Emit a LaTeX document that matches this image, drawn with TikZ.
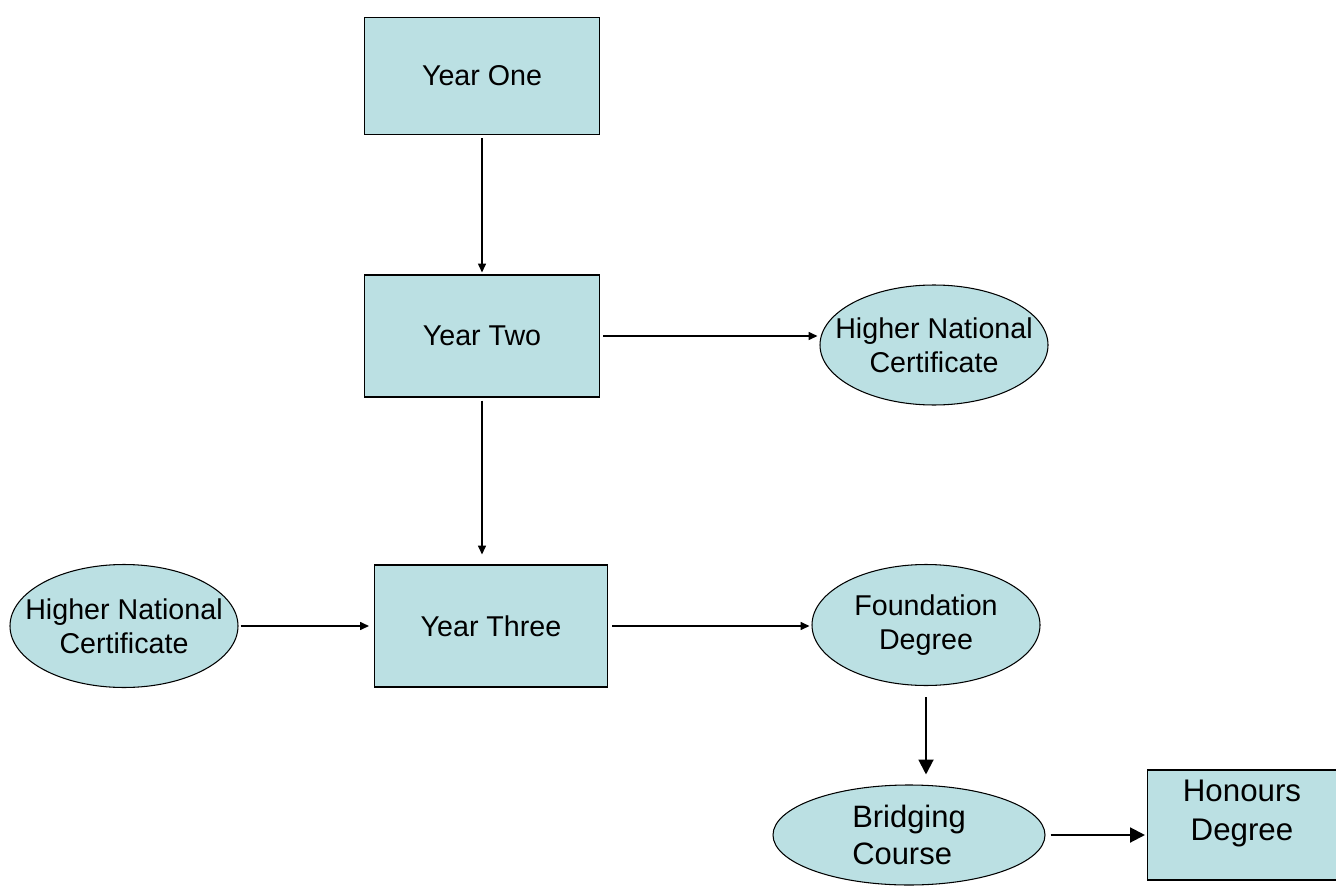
\documentclass[tikz,border=0pt]{standalone}
\usepackage{fontspec}
\setmainfont{Liberation Sans}
\usetikzlibrary{shapes.geometric,arrows.meta}
\definecolor{boxfill}{HTML}{BBE0E3}
\begin{document}
\begin{tikzpicture}[x=0.02cm,y=-0.02cm,
    every node/.style={draw,fill=boxfill,line width=0.6pt,inner sep=0pt,
        font=\fontsize{16.3}{19.5}\selectfont,align=center},
    box/.style={rectangle},
    oval/.style={ellipse,inner xsep=-0.6cm},
    link/.style={line width=0.75pt,-{Triangle[length=5pt,width=4.5pt]}},
    bigLink/.style={line width=1.2pt,-{Triangle[length=8.5pt,width=8.5pt]}}]
    \useasboundingbox (0,0) rectangle (1336,892);
    \begin{scope}
        \node[box,minimum width=235*0.02cm,minimum height=117*0.02cm] (y1) at (482,76) {Year One};
        \node[box,minimum width=235*0.02cm,minimum height=122*0.02cm] (y2) at (482,336) {Year Two};
        \node[box,minimum width=233*0.02cm,minimum height=122*0.02cm] (y3) at (491,626) {Year Three};
        \node[oval,minimum width=228*0.02cm,minimum height=120*0.02cm] (hncR) at (934,345) {Higher National\\Certificate};
        \node[oval,minimum width=228*0.02cm,minimum height=123*0.02cm] (hncL) at (124,626) {Higher National\\Certificate};
        \node[oval,minimum width=228*0.02cm,minimum height=121*0.02cm] (fd) at (926,625) {Foundation\\Degree};
        \node[oval,minimum width=272*0.02cm,minimum height=100*0.02cm,align=left,
            font=\fontsize{17.6}{21}\selectfont] (bc) at (909,835) {Bridging\\Course};
        \node[box,minimum width=189*0.02cm,minimum height=110*0.02cm,
            font=\fontsize{17.8}{22}\selectfont,text depth=0.6cm] (hd) at (1242,825) {Honours\\Degree};
    \end{scope}
    \draw[link,shorten <=3*0.02cm,shorten >=2*0.02cm] (y1) -- (y2);
    \draw[link,shorten <=3*0.02cm,shorten >=10*0.02cm] (y2) -- (y3.north -| y2.south);
    \draw[link,shorten <=3*0.02cm,shorten >=2*0.02cm] (y2.east) -- (y2.east -| hncR.west);
    \draw[link,shorten <=2*0.02cm,shorten >=5*0.02cm] (hncL.east) -- (hncL.east -| y3.west);
    \draw[link,shorten <=4*0.02cm,shorten >=2*0.02cm] (y3.east) -- (y3.east -| fd.west);
    \draw[bigLink,shorten <=11*0.02cm,shorten >=10*0.02cm] (fd.south) -- (fd.south |- bc.north);
    \draw[bigLink,shorten <=5*0.02cm,shorten >=2*0.02cm] (bc.east) -- (bc.east -| hd.west);
\end{tikzpicture}
\end{document}
